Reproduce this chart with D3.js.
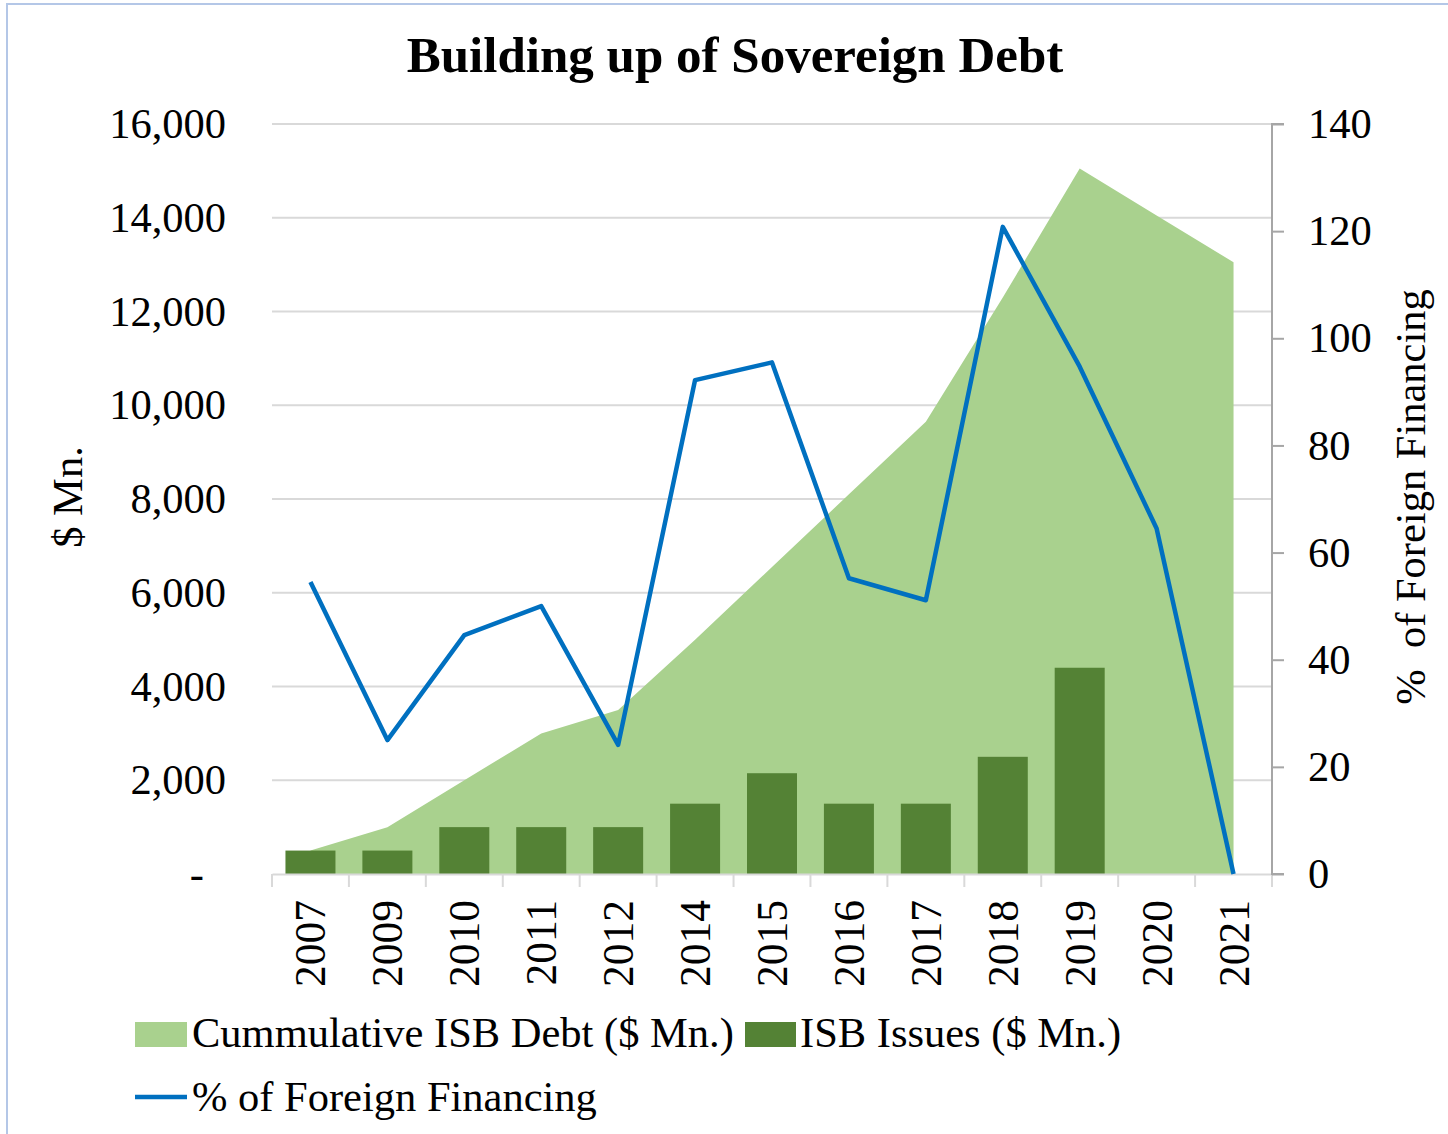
<!DOCTYPE html>
<html>
<head>
<meta charset="utf-8">
<script src="https://cdn.jsdelivr.net/npm/d3@7"></script>
<style>
  body { margin: 0; background: #fff; }
  svg text { font-family: 'Liberation Serif', 'Times New Roman', serif; fill: #000; }
</style>
</head>
<body>
<div id="chart"></div>
<script>
var years = ['2007','2009','2010','2011','2012','2014','2015','2016','2017','2018','2019','2020','2021'];
var cumulative = [500,1000,2000,3000,3500,5000,6550,8100,9650,12300,15050,14050,13050];
var issues = [500,500,1000,1000,1000,1500,2150,1500,1500,2500,4400,0,0];
var foreign = [54.5,25,44.6,50,24.1,92.2,95.5,55.2,51.1,120.8,94.7,64.5,0];
var leftTicks = [0,2000,4000,6000,8000,10000,12000,14000,16000];
var rightTicks = [0,20,40,60,80,100,120,140];

var width = 1448;
var height = 1134;
var plotLeft = 272;
var plotRight = 1272;
var plotTop = 124;
var plotBottom = 874;
var fs = '42.5px';

var svg = d3
    .select('#chart')
    .append('svg')
    .attr('width', width)
    .attr('height', height);

// outer chart border (only top/left are in frame)
svg.append('rect')
    .attr('x', 7).attr('y', 4)
    .attr('width', width).attr('height', height)
    .attr('fill', 'none')
    .attr('stroke', '#B4C7E7')
    .attr('stroke-width', 2);

var xScale = d3.scaleBand()
    .domain(years)
    .range([plotLeft, plotRight])
    .padding(0);
var step = xScale.bandwidth();
var barW = step * 0.65;
var cx = function(y) { return xScale(y) + step / 2; };

var yLeft = d3.scaleLinear().domain([0, 16000]).range([plotBottom, plotTop]);
var yRight = d3.scaleLinear().domain([0, 140]).range([plotBottom, plotTop]);

// gridlines
svg.append('g')
    .selectAll('line')
    .data(leftTicks.slice(1))
    .enter()
    .append('line')
    .attr('x1', plotLeft).attr('x2', plotRight)
    .attr('y1', d => yLeft(d)).attr('y2', d => yLeft(d))
    .attr('stroke', '#D9D9D9')
    .attr('stroke-width', 2);

// cumulative area
var area = d3.area()
    .x((d, i) => cx(years[i]))
    .y0(plotBottom)
    .y1(d => yLeft(d));

svg.append('path')
    .datum(cumulative)
    .attr('d', area)
    .attr('fill', '#A9D18E');

// issues bars
svg.append('g')
    .selectAll('rect')
    .data(issues)
    .enter()
    .append('rect')
    .attr('x', (d, i) => cx(years[i]) - barW / 2)
    .attr('width', barW)
    .attr('y', d => yLeft(d))
    .attr('height', d => plotBottom - yLeft(d))
    .attr('fill', '#548235');

// x axis
var xAxis = d3.axisBottom(xScale).tickSize(0).tickFormat('');
var xg = svg.append('g')
    .attr('transform', `translate(0,${plotBottom})`)
    .call(xAxis);
xg.select('.domain').attr('stroke', '#D9D9D9').attr('stroke-width', 2);

svg.append('g')
    .selectAll('line')
    .data(years.concat(['end']))
    .enter()
    .append('line')
    .attr('x1', (d, i) => plotLeft + i * step)
    .attr('x2', (d, i) => plotLeft + i * step)
    .attr('y1', plotBottom)
    .attr('y2', plotBottom + 13)
    .attr('stroke', '#D9D9D9')
    .attr('stroke-width', 2);

svg.append('g')
    .selectAll('text')
    .data(years)
    .enter()
    .append('text')
    .text(d => d)
    .attr('transform', d => `translate(${cx(d) + 15},900)rotate(-90)`)
    .attr('text-anchor', 'end')
    .style('font-size', '43.5px');

// left axis labels
var yAxisL = d3.axisLeft(yLeft)
    .tickValues(leftTicks)
    .tickSize(0)
    .tickPadding(46)
    .tickFormat(d => d === 0 ? '-' : d3.format(',')(d));
var ylg = svg.append('g')
    .attr('transform', `translate(${plotLeft},0)`)
    .call(yAxisL);
ylg.select('.domain').remove();
ylg.selectAll('text')
    .style('font-size', fs)
    .style('font-family', "'Liberation Serif', serif")
    .attr('fill', '#000')
    .attr('dy', '0.32em');
ylg.selectAll('.tick')
    .filter(d => d === 0)
    .select('text')
    .attr('x', -68);

// right axis
var yAxisR = d3.axisRight(yRight)
    .tickValues(rightTicks)
    .tickSize(12)
    .tickPadding(24)
    .tickFormat(d3.format('d'));
var yrg = svg.append('g')
    .attr('transform', `translate(${plotRight},0)`)
    .call(yAxisR);
yrg.select('.domain').attr('stroke', '#A6A6A6').attr('stroke-width', 2).attr('d', `M12,${plotTop}H0V${plotBottom}H12`);
yrg.selectAll('.tick line').attr('stroke', '#A6A6A6').attr('stroke-width', 2);
yrg.selectAll('text')
    .style('font-size', fs)
    .style('font-family', "'Liberation Serif', serif")
    .attr('fill', '#000')
    .attr('dy', '0.32em');

// foreign financing line
var line = d3.line()
    .x((d, i) => cx(years[i]))
    .y(d => yRight(d));

svg.append('path')
    .datum(foreign)
    .attr('d', line)
    .attr('fill', 'none')
    .attr('stroke', '#0070C0')
    .attr('stroke-width', 4.5)
    .attr('stroke-linejoin', 'round');

// title
svg.append('text')
    .text('Building up of Sovereign Debt')
    .attr('x', 735)
    .attr('y', 72)
    .attr('text-anchor', 'middle')
    .style('font-size', '51px')
    .style('font-weight', 'bold');

// axis titles
svg.append('text')
    .text('$ Mn.')
    .attr('transform', 'translate(82,497)rotate(-90)')
    .attr('text-anchor', 'middle')
    .style('font-size', fs);

svg.append('text')
    .text('%  of Foreign Financing')
    .attr('transform', 'translate(1425,497)rotate(-90)')
    .attr('text-anchor', 'middle')
    .style('font-size', fs)
    .style('white-space', 'pre');

// legend
var legend = svg.append('g');
legend.append('rect')
    .attr('x', 135).attr('y', 1022).attr('width', 52).attr('height', 25)
    .attr('fill', '#A9D18E');
legend.append('text')
    .text('Cummulative ISB Debt ($ Mn.)')
    .attr('x', 192).attr('y', 1047)
    .style('font-size', fs);
legend.append('rect')
    .attr('x', 745).attr('y', 1022).attr('width', 51).attr('height', 25)
    .attr('fill', '#548235');
legend.append('text')
    .text('ISB Issues ($ Mn.)')
    .attr('x', 800).attr('y', 1047)
    .style('font-size', fs);
legend.append('line')
    .attr('x1', 135).attr('x2', 187)
    .attr('y1', 1097).attr('y2', 1097)
    .attr('stroke', '#0070C0')
    .attr('stroke-width', 4.5);
legend.append('text')
    .text('% of Foreign Financing')
    .attr('x', 192).attr('y', 1111)
    .style('font-size', fs);
</script>
</body>
</html>
